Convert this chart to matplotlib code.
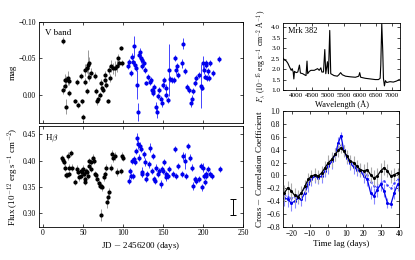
import numpy as np
import matplotlib
matplotlib.use('Agg')
import matplotlib.pyplot as plt

plt.rcParams['font.family'] = 'serif'
plt.rcParams['font.serif'] = ['Liberation Serif', 'DejaVu Serif']
plt.rcParams['mathtext.fontset'] = 'cm'
plt.rcParams['xtick.direction'] = 'in'
plt.rcParams['ytick.direction'] = 'in'
plt.rcParams['xtick.top'] = True
plt.rcParams['ytick.right'] = True
plt.rcParams['axes.linewidth'] = 0.6
plt.rcParams['axes.labelpad'] = 1.5

# V band light curve (days, mag, err)
v_day_k = [25, 25, 27, 28, 29, 29, 31, 32, 33, 40, 42, 44, 48, 49, 50, 52, 53, 55, 55, 56,
           57, 58, 60, 65, 66, 67.5, 69, 71, 73, 74, 75, 77, 78, 79, 81, 82, 84, 85, 87.5,
           89.5, 92, 94, 95, 97, 99]
v_mag_k = [-0.074, -0.007, -0.020, -0.012, 0.016, -0.020, -0.023, -0.019, -0.002, 0.008,
           -0.017, 0.014, -0.026, 0.009, 0.030, -0.018, -0.034, -0.005, -0.036, -0.041,
           -0.043, -0.025, -0.030, -0.026, -0.005, 0.009, 0.005, 0.000, -0.016, -0.009,
           -0.007, -0.027, -0.020, -0.014, 0.008, -0.034, -0.023, -0.039, -0.036, -0.036,
           -0.039, -0.050, -0.043, -0.064, -0.043]
v_err_k = [0.005, 0.006, 0.008, 0.006, 0.010, 0.006, 0.010, 0.006, 0.004, 0.003,
           0.004, 0.004, 0.004, 0.003, 0.004, 0.005, 0.008, 0.004, 0.006, 0.020,
           0.008, 0.006, 0.006, 0.005, 0.004, 0.005, 0.005, 0.004, 0.005, 0.004,
           0.004, 0.005, 0.006, 0.005, 0.003, 0.006, 0.006, 0.008, 0.008, 0.010,
           0.008, 0.006, 0.005, 0.003, 0.004]
v_day_b = [106, 108, 110, 111, 112, 114, 115, 116, 117.5, 119, 120, 121, 122, 123, 124, 126,
           127, 129, 131, 133, 134.5, 135.5, 137, 137.5, 139, 141, 142, 143, 145, 147, 149,
           150, 151, 153, 154, 156, 157, 159, 161, 163, 164.5, 166, 167, 169, 174, 175, 177,
           180, 182, 184.5, 185.5, 187.5, 189.5, 191, 195, 197, 199, 200, 201, 202, 203, 204,
           205, 206, 207.5, 208, 212.5, 220]
v_mag_b = [-0.039, -0.045, -0.030, -0.052, -0.045, -0.066, -0.041, -0.036, -0.014, 0.023,
           -0.055, -0.059, -0.050, -0.039, -0.048, -0.043, -0.034, -0.016, -0.024, -0.018,
           -0.020, -0.007, -0.005, -0.002, -0.011, 0.016, 0.023, 0.002, -0.007, 0.005,
           0.011, -0.014, -0.020, -0.009, 0.000, 0.007, -0.034, -0.022, -0.020, -0.020,
           -0.050, -0.034, -0.039, -0.027, -0.043, -0.070, -0.032, -0.011, -0.007, 0.011,
           0.005, -0.005, -0.016, -0.023, -0.027, -0.012, -0.010, -0.043, -0.034, -0.025,
           -0.041, -0.043, -0.023, -0.032, -0.023, -0.043, -0.030, -0.049]
v_err_b = [0.004, 0.004, 0.004, 0.005, 0.004, 0.014, 0.005, 0.004, 0.020, 0.012,
           0.005, 0.005, 0.006, 0.004, 0.004, 0.004, 0.004, 0.003, 0.004, 0.004,
           0.004, 0.003, 0.003, 0.004, 0.004, 0.006, 0.008, 0.004, 0.004, 0.004,
           0.006, 0.004, 0.004, 0.006, 0.004, 0.004, 0.035, 0.004, 0.004, 0.004,
           0.004, 0.005, 0.004, 0.004, 0.006, 0.007, 0.004, 0.004, 0.004, 0.006,
           0.005, 0.004, 0.004, 0.004, 0.004, 0.030, 0.004, 0.010, 0.005, 0.004,
           0.005, 0.005, 0.004, 0.005, 0.004, 0.004, 0.004, 0.004]

# H-beta light curve
h_day_k = [24, 25, 26, 28, 28.5, 30.5, 31, 32, 33, 34.5, 36, 40, 42.5, 44, 45, 47, 48, 49,
           50, 51, 52, 53, 54, 55.5, 56, 57.5, 58, 59.5, 60, 62.5, 64, 64.5, 66.5, 68, 70,
           71, 72, 73, 74, 76, 77.5, 79, 80, 81, 82.5, 84.5, 86.5, 88, 89.5, 92.5, 98, 99, 100]
h_flx_k = [0.406, 0.401, 0.398, 0.387, 0.373, 0.373, 0.409, 0.375, 0.387, 0.414, 0.387,
           0.359, 0.385, 0.378, 0.368, 0.371, 0.381, 0.378, 0.385, 0.375, 0.365, 0.359,
           0.381, 0.378, 0.371, 0.390, 0.400, 0.398, 0.384, 0.406, 0.400, 0.375, 0.373,
           0.365, 0.357, 0.352, 0.296, 0.352, 0.349, 0.368, 0.375, 0.387, 0.321, 0.330,
           0.340, 0.387, 0.412, 0.406, 0.409, 0.378, 0.381, 0.409, 0.406]
h_err_k = [0.005, 0.005, 0.006, 0.006, 0.006, 0.006, 0.008, 0.006, 0.006, 0.006, 0.006,
           0.006, 0.006, 0.006, 0.006, 0.006, 0.006, 0.006, 0.006, 0.006, 0.006, 0.006,
           0.006, 0.006, 0.006, 0.006, 0.006, 0.006, 0.006, 0.006, 0.006, 0.006, 0.006,
           0.006, 0.006, 0.006, 0.012, 0.006, 0.006, 0.006, 0.006, 0.006, 0.012, 0.008,
           0.008, 0.006, 0.008, 0.008, 0.008, 0.008, 0.006, 0.008, 0.006]
h_day_b = [107.5, 109, 110, 111.5, 112.5, 114, 115, 116, 117.5, 119, 120, 121, 122, 123, 124,
           126, 127, 129, 130, 132.5, 134, 135.5, 137, 139, 139.5, 141, 143, 145, 147, 148,
           150, 151, 153, 154, 156, 157.5, 162.5, 164.5, 166, 169, 174, 175, 177, 178, 181,
           183, 185.5, 187.5, 189.5, 191.5, 195, 197, 199, 200, 201, 202, 203.5, 204, 205.5,
           208, 210.5, 221]
h_flx_b = [0.362, 0.381, 0.371, 0.400, 0.371, 0.403, 0.397, 0.419, 0.444, 0.431, 0.406,
           0.428, 0.422, 0.378, 0.375, 0.412, 0.397, 0.365, 0.375, 0.393, 0.425, 0.381,
           0.409, 0.365, 0.362, 0.387, 0.375, 0.381, 0.356, 0.384, 0.381, 0.397, 0.375,
           0.368, 0.371, 0.384, 0.375, 0.422, 0.371, 0.390, 0.375, 0.409, 0.400, 0.371,
           0.428, 0.406, 0.387, 0.352, 0.365, 0.362, 0.365, 0.390, 0.349, 0.387, 0.371,
           0.359, 0.375, 0.371, 0.384, 0.375, 0.371, 0.384]
h_err_b = [0.006, 0.006, 0.006, 0.006, 0.006, 0.006, 0.006, 0.006, 0.008, 0.008, 0.006,
           0.008, 0.006, 0.010, 0.006, 0.006, 0.008, 0.006, 0.006, 0.006, 0.008, 0.006,
           0.006, 0.006, 0.006, 0.006, 0.006, 0.006, 0.008, 0.006, 0.006, 0.006, 0.006,
           0.006, 0.006, 0.006, 0.006, 0.006, 0.006, 0.006, 0.006, 0.008, 0.015, 0.006,
           0.006, 0.006, 0.006, 0.008, 0.006, 0.006, 0.006, 0.006, 0.006, 0.008, 0.006,
           0.006, 0.006, 0.006, 0.006, 0.006, 0.006, 0.006]
sys_err_day = 237
sys_err_flx = 0.311
sys_err_size = 0.015

# mean spectrum
wave = [3598, 3650, 3701, 3753, 3804, 3856, 3887, 3918, 3938, 3959, 4010, 4062, 4113, 4144,
        4216, 4268, 4319, 4350, 4371, 4422, 4474, 4577, 4680, 4731, 4783, 4814, 4865, 4906,
        4937, 4989, 5020, 5061, 5092, 5195, 5298, 5349, 5401, 5452, 5555, 5710, 5864, 5967,
        5998, 6029, 6173, 6328, 6482, 6585, 6637, 6657, 6688, 6719, 6740, 6771, 6802, 6843,
        6946, 7049, 7152, 7234]
flux = [2.52, 2.43, 2.39, 2.27, 2.10, 1.94, 2.02, 1.86, 1.53, 1.89, 1.83, 1.86, 2.19, 1.81,
        1.78, 1.73, 1.69, 2.38, 1.78, 1.89, 1.94, 1.94, 2.02, 1.94, 2.06, 1.86, 1.86, 2.93,
        1.78, 2.35, 1.78, 3.84, 1.78, 1.69, 1.66, 1.73, 1.83, 1.73, 1.66, 1.63, 1.61, 1.66,
        1.83, 1.61, 1.56, 1.53, 1.50, 1.50, 1.56, 2.19, 4.16, 2.85, 1.56, 1.20, 1.45, 1.36,
        1.40, 1.38, 1.43, 1.50]

# cross-correlation functions
lag = [-24.2, -22.3, -20.4, -18.5, -16.6, -14.7, -12.8, -10.9, -9.1, -7.2, -5.3, -3.4, -1.5,
       0.4, 2.3, 4.2, 6.0, 7.4, 8.9, 10.8, 12.6, 14.5, 16.4, 18.3, 20.2, 22.1, 24.0, 25.8,
       27.7, 29.6, 31.5, 33.4, 35.3, 37.2, 39.1]
ccf_k = [-0.27, -0.19, -0.24, -0.31, -0.33, -0.27, -0.17, -0.06, -0.01, 0.01, -0.01, 0.04,
         0.12, 0.20, 0.25, 0.33, 0.39, 0.43, 0.38, 0.30, 0.22, 0.20, 0.14, 0.09, 0.07, 0.09,
         0.01, -0.04, -0.01, 0.07, 0.12, 0.07, -0.01, 0.01, 0.04]
ccf_b = [-0.35, -0.37, -0.43, -0.40, -0.35, -0.37, -0.27, -0.14, -0.06, -0.01, -0.04, -0.01,
         0.07, 0.14, 0.22, 0.33, 0.51, 0.62, 0.40, 0.27, 0.19, 0.13, 0.09, 0.07, -0.01, -0.06,
         -0.27, -0.32, -0.22, -0.14, -0.24, -0.43, -0.45, -0.27, -0.14]
ccf_b2 = [-0.30, -0.33, -0.35, -0.33, -0.30, -0.28, -0.20, -0.10, -0.03, 0.00, -0.02, 0.02,
          0.10, 0.17, 0.24, 0.32, 0.42, 0.47, 0.40, 0.30, 0.22, 0.16, 0.12, 0.08, 0.04, 0.00,
          -0.10, -0.16, -0.18, -0.12, -0.08, -0.15, -0.20, -0.12, -0.06]
ccf_err_k = [0.12, 0.10, 0.12, 0.12, 0.10, 0.10, 0.10, 0.10, 0.10, 0.10, 0.10, 0.10, 0.10,
             0.12, 0.12, 0.10, 0.10, 0.08, 0.10, 0.10, 0.10, 0.10, 0.10, 0.10, 0.10, 0.12,
             0.12, 0.12, 0.12, 0.12, 0.12, 0.10, 0.10, 0.10, 0.08]
ccf_err_b = [0.12, 0.12, 0.12, 0.10, 0.10, 0.10, 0.12, 0.12, 0.10, 0.10, 0.10, 0.10, 0.10,
             0.12, 0.12, 0.10, 0.08, 0.06, 0.08, 0.10, 0.10, 0.10, 0.10, 0.10, 0.10, 0.10,
             0.10, 0.12, 0.12, 0.10, 0.10, 0.08, 0.06, 0.10, 0.10]

fs_tick = 5.5
fs_lab = 6.5

fig = plt.figure(figsize=(4.15, 2.6), dpi=100)
ax1 = fig.add_axes([0.094, 0.528, 0.492, 0.389])
ax2 = fig.add_axes([0.094, 0.128, 0.492, 0.387])
ax3 = fig.add_axes([0.682, 0.652, 0.282, 0.260])
ax4 = fig.add_axes([0.682, 0.127, 0.280, 0.446])

ekw = dict(fmt='o', ms=2, capsize=0, elinewidth=0.7)
ax1.errorbar(v_day_k, v_mag_k, yerr=v_err_k, color='k', ecolor='#999999', **ekw)
ax1.errorbar(v_day_b, v_mag_b, yerr=v_err_b, color='#0000ee', ecolor='#4444ff', **ekw)
ax1.set_xlim(-5, 250)
ax1.set_ylim(0.038, -0.10)
ax1.set_yticks([-0.10, -0.05, 0.00])
ax1.set_xticks([0, 50, 100, 150, 200, 250])
ax1.set_xticklabels([])
ax1.set_ylabel('mag', fontsize=fs_lab)
ax1.text(0.03, 0.93, 'V band', transform=ax1.transAxes, fontsize=fs_lab, va='top')

ax2.errorbar(h_day_k, h_flx_k, yerr=h_err_k, color='k', ecolor='#999999', **ekw)
ax2.errorbar(h_day_b, h_flx_b, yerr=h_err_b, color='#0000ee', ecolor='#4444ff', **ekw)
ax2.errorbar([sys_err_day], [sys_err_flx], yerr=[sys_err_size], fmt='none',
             ecolor='k', elinewidth=0.7, capsize=2, capthick=0.7)
ax2.set_xlim(-5, 250)
ax2.set_ylim(0.274, 0.466)
ax2.set_yticks([0.30, 0.35, 0.40, 0.45])
ax2.set_xticks([0, 50, 100, 150, 200, 250])
ax2.set_ylabel(r'Flux ($10^{-12}$ erg s$^{-1}$ cm$^{-2}$)', fontsize=fs_lab)
ax2.set_xlabel(r'JD $-$ 2456200 (days)', fontsize=fs_lab)
ax2.text(0.03, 0.93, r'H$\beta$', transform=ax2.transAxes, fontsize=fs_lab, va='top')

ax3.plot(wave, flux, color='k', lw=0.8)
ax3.set_xlim(3600, 7260)
ax3.set_ylim(0.98, 4.2)
ax3.set_xticks([4000, 4500, 5000, 5500, 6000, 6500, 7000])
ax3.set_yticks([1.0, 1.5, 2.0, 2.5, 3.0, 3.5, 4.0])
ax3.set_xlabel('Wavelength (Å)', fontsize=fs_lab - 0.5)
ax3.set_ylabel(r'$F_\lambda$ ($10^{-15}$ erg s$^{-1}$ cm$^{-2}$ Å$^{-1}$)', fontsize=fs_lab - 1)
ax3.text(0.04, 0.94, 'Mrk 382', transform=ax3.transAxes, fontsize=fs_lab - 0.5, va='top')

ax4.errorbar(lag, ccf_k, yerr=ccf_err_k, color='k', ecolor='#aaaaaa', fmt='-o', ms=1.2,
             lw=0.9, elinewidth=0.8, capsize=0, zorder=3)
ax4.errorbar(lag, ccf_b, yerr=ccf_err_b, color='#0000ee', ecolor='#8888ff', fmt='-o', ms=1.2,
             lw=0.9, elinewidth=0.8, capsize=0, zorder=2)
ax4.plot(lag, ccf_b2, color='#3333ff', lw=0.6, ls=':', marker='.', ms=1.5, zorder=2)
ax4.set_xlim(-25, 40)
ax4.set_ylim(-0.8, 1.0)
ax4.set_xticks([-20, -10, 0, 10, 20, 30, 40])
ax4.set_yticks(np.arange(-0.8, 1.01, 0.2))
ax4.set_xlabel('Time lag (days)', fontsize=fs_lab)
ax4.set_ylabel(r'Cross $-$ Correlation Coefficient', fontsize=fs_lab)

for ax in (ax1, ax2, ax3, ax4):
    ax.tick_params(labelsize=fs_tick, length=2.5, width=0.5, pad=2)
ax3.tick_params(labelsize=5.2)

fig.savefig('out.png', dpi=100)
